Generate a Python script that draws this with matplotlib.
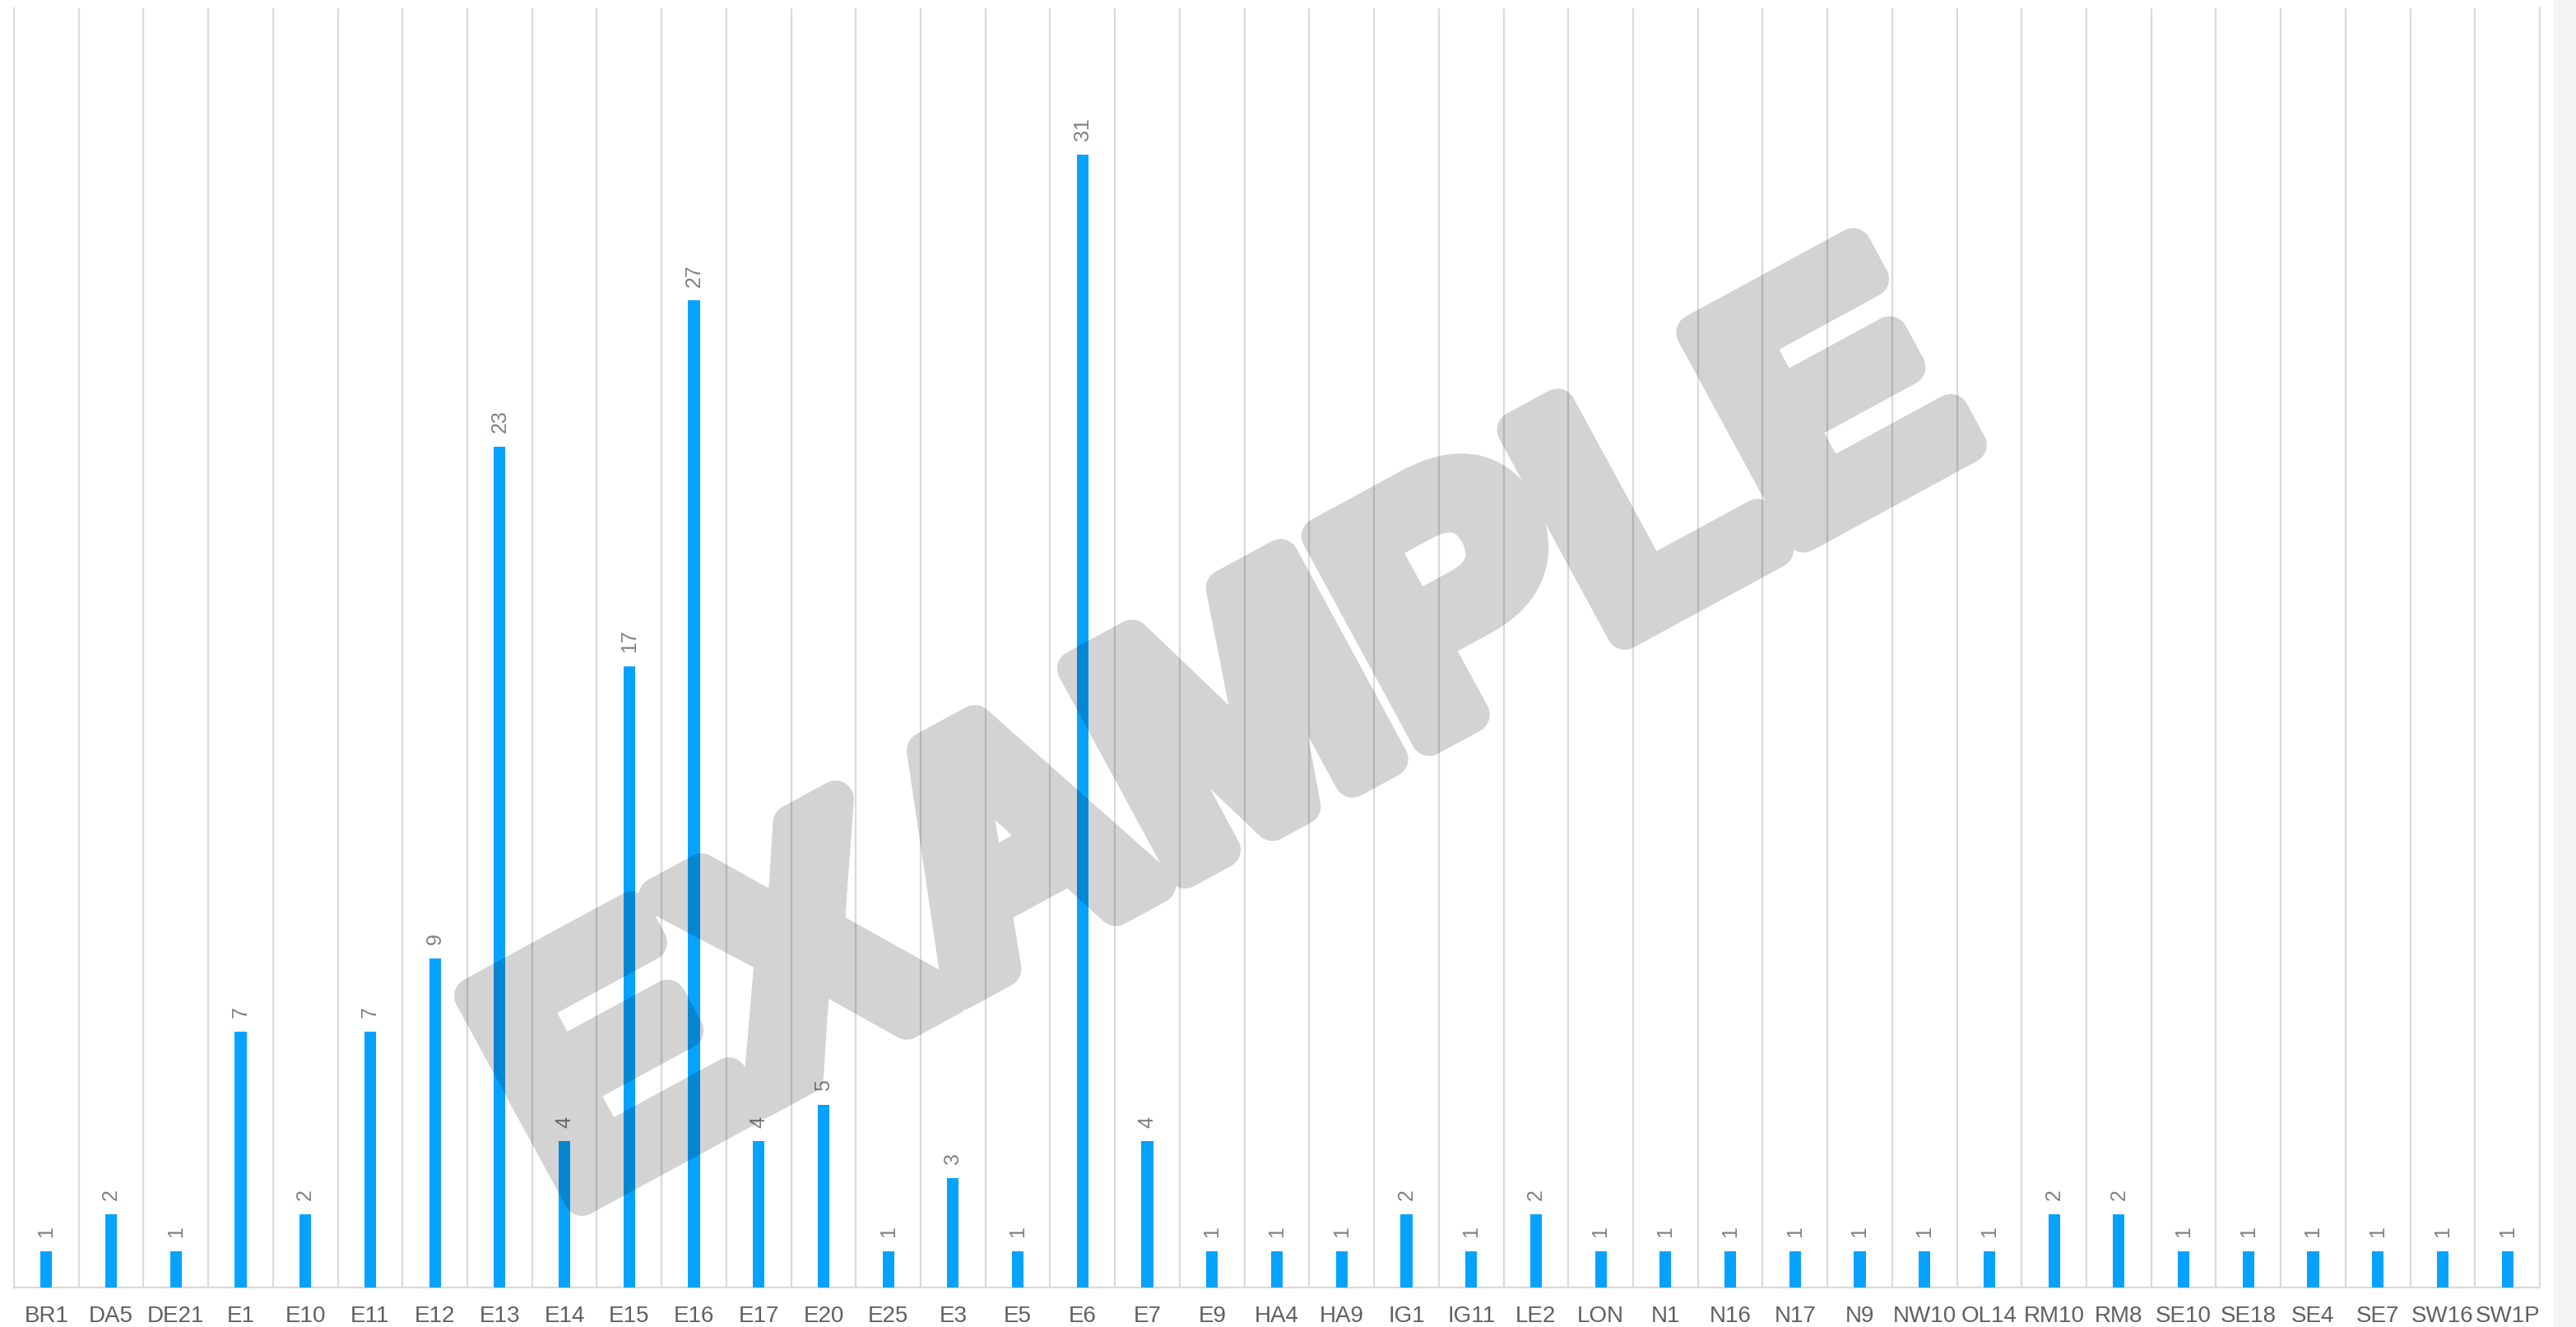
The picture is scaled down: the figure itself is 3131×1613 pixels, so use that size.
import matplotlib.pyplot as plt
from matplotlib.patches import Rectangle
import matplotlib.patheffects as pe
import numpy as np

plt.rcParams['font.family'] = ['Liberation Sans Narrow', 'Liberation Sans', 'DejaVu Sans']

# postcode districts and record counts
districts = ['BR1', 'DA5', 'DE21', 'E1', 'E10', 'E11', 'E12', 'E13', 'E14', 'E15',
             'E16', 'E17', 'E20', 'E25', 'E3', 'E5', 'E6', 'E7', 'E9', 'HA4',
             'HA9', 'IG1', 'IG11', 'LE2', 'LON', 'N1', 'N16', 'N17', 'N9', 'NW10',
             'OL14', 'RM10', 'RM8', 'SE10', 'SE18', 'SE4', 'SE7', 'SW16', 'SW1P']
counts = [1, 2, 1, 7, 2, 7, 9, 23, 4, 17,
          27, 4, 5, 1, 3, 1, 31, 4, 1, 1,
          1, 2, 1, 2, 1, 1, 1, 1, 1, 1,
          1, 2, 2, 1, 1, 1, 1, 1, 1]

W, H, DPI = 3131, 1613, 100
fig = plt.figure(figsize=(W / DPI, H / DPI), dpi=DPI)
ax = fig.add_axes([17 / W, 48 / H, (3087 - 17) / W, (1603 - 48) / H])

x = np.arange(len(districts))
bars = ax.bar(x, counts, width=0.18, color='#06a2ff', zorder=3)

for xi, v in zip(x, counts):
    ax.annotate(str(v), (xi, v), xytext=(0, 12), textcoords='offset points',
                rotation=90, ha='center', va='bottom', fontsize=18, color='#808080')

ax.set_xlim(-0.5, len(districts) - 0.5)
ax.set_ylim(0, 35)
ax.set_xticks(x)
ax.set_xticklabels(districts, fontsize=20, color='#606060')
ax.tick_params(axis='x', length=0, pad=16)
ax.set_yticks([])

# category separators
ax.set_xticks(np.arange(0.5, len(districts) - 1, 1), minor=True)
ax.tick_params(axis='x', which='minor', length=0)
ax.grid(which='minor', axis='x', color='#dadada', linewidth=1.6, zorder=0)

for side in ['left', 'right', 'bottom']:
    ax.spines[side].set_color('#dadada')
    ax.spines[side].set_linewidth(1.6)
ax.spines['top'].set_visible(False)

# grey strip on the right edge
fig.add_artist(Rectangle((3104 / W, 0), 1 - 3104 / W, 1, transform=fig.transFigure,
                         color='#f4f4f4', zorder=0))


def fade(img, dpi):
    # make the whole watermark uniformly translucent
    img = img.copy()
    img[..., 3] *= 0.175
    return img, 0, 0


# watermark: drawn opaque and thickened, then faded as one layer
wm = fig.text(1545 / W, 612 / H, 'EXAMPLE', rotation=28.5, rotation_mode='anchor',
              ha='center', va='baseline', fontsize=292, fontweight='bold',
              color='black', zorder=10)
wm.set_path_effects([pe.Stroke(linewidth=32, foreground='black', joinstyle='round'),
                     pe.Normal()])
wm.set_agg_filter(fade)

fig.savefig('out.png', dpi=DPI)
